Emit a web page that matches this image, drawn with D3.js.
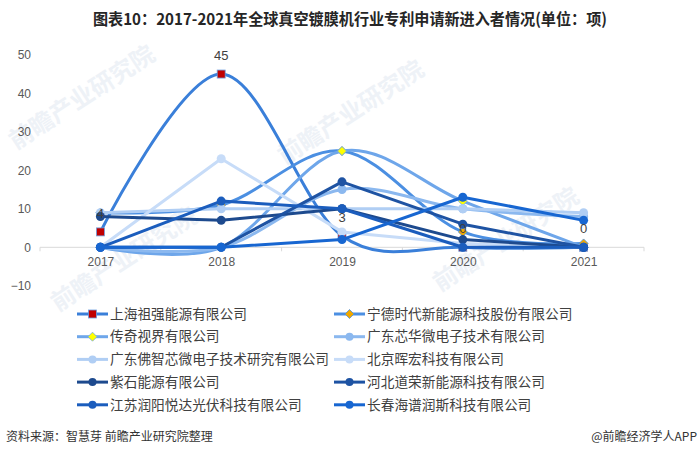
<!DOCTYPE html>
<html><head><meta charset="utf-8">
<script src="https://cdn.jsdelivr.net/npm/d3@7"></script>
<style>body{margin:0;background:#fff}svg{display:block}</style>
</head><body>
<svg id="c" width="700" height="453"></svg>
<script>
const years = ["2017","2018","2019","2020","2021"];
const yTicks = [-10,0,10,20,30,40,50];
const names = ["上海祖强能源有限公司","宁德时代新能源科技股份有限公司","传奇视界有限公司","广东芯华微电子技术有限公司","广东佛智芯微电子技术研究有限公司","北京晖宏科技有限公司","紫石能源有限公司","河北道荣新能源科技有限公司","江苏润阳悦达光伏科技有限公司","长春海谱润斯科技有限公司"];
const s1 = [4,45,3,0,0];
const s2 = [9,11,25,4,1];
const s3 = [0,0,25,12,0];
const s4 = [0,0,15,10,8];
const s5 = [9,10,10,10,9];
const s6 = [0,23,4,1,0];
const s7 = [8,7,10,2,0];
const s8 = [0,0,17,6,0];
const s9 = [0,12,10,0,0];
const s10 = [0,0,2,13,7];
const seriesValues = [s1,s2,s3,s4,s5,s6,s7,s8,s9,s10];
const labelValues = ["4","45","3","0","0"];
const title = "图表10：2017-2021年全球真空镀膜机行业专利申请新进入者情况(单位：项)";
const source = "资料来源：智慧芽 前瞻产业研究院整理";
const credit = "@前瞻经济学人APP";
const watermark = "前瞻产业研究院";

const colors = ["#3a7fd9","#4b8fe2","#6ea6ea","#8bb8ef","#b0cef4","#c7dcf8","#1d4a8e","#1e53a3","#1b5dbd","#1766d1"];
const smooth = [true,true,true,true,false,false,false,false,false,false];
const markerType = ["square","diamondO","diamondY","circle","circle","circle","circle","circle","circle","circle"];

const svg = d3.select("#c");
const cjk = "'Noto Sans CJK SC','Noto Sans',sans-serif";

// faint watermarks
[[16,150],[285,165],[440,292],[58,312]].forEach(([x,y])=>{
  svg.append("text").attr("transform",`translate(${x},${y}) rotate(-33)`)
    .attr("font-family",cjk).attr("font-size",24).attr("font-weight","bold")
    .attr("fill","#eef2f7").text(watermark);
});

svg.append("text").attr("x",350).attr("y",25).attr("text-anchor","middle")
  .attr("font-family","'Liberation Sans Narrow','Noto Sans CJK SC',sans-serif")
  .attr("font-weight","bold").attr("font-size",16).attr("fill","#262626")
  .attr("textLength",514).attr("lengthAdjust","spacingAndGlyphs").text(title);

const x = d3.scalePoint().domain(years).range([40,644]).padding(0.5);
const y = d3.scaleLinear().domain([-10,50]).range([285.8,54.8]);

// y axis labels
const yAxis = d3.axisLeft(y).tickValues(yTicks).tickSize(0).tickPadding(0).tickFormat(d=>d<0?"−"+Math.abs(d):d);
const ya = svg.append("g").attr("transform","translate(31,0)").call(yAxis);
ya.select(".domain").remove();
ya.selectAll("text").attr("font-family","'Liberation Sans',Arial,sans-serif").attr("font-size",12).attr("fill","#595959");

// x axis at zero
const xa = svg.append("g").attr("transform",`translate(0,${y(0)})`).call(d3.axisBottom(x).tickSize(0).tickPadding(10));
xa.select(".domain").attr("stroke","#d9d9d9").attr("d","M40,0H644");
xa.selectAll("text").attr("font-family","'Liberation Sans',Arial,sans-serif").attr("font-size",12).attr("fill","#595959");
const bounds = d3.range(6).map(i=>40+i*x.step());
svg.append("g").selectAll("line").data(bounds).join("line")
  .attr("x1",d=>d).attr("x2",d=>d).attr("y1",y(0)).attr("y2",y(0)+4).attr("stroke","#d9d9d9");

function marker(g, type, cx, cy, color, r){
  if(type==="square"){
    g.append("rect").attr("x",cx-4).attr("y",cy-4).attr("width",8).attr("height",8)
      .attr("fill","#c00000").attr("stroke","#6fa0e0").attr("stroke-width",0.8);
  } else if(type==="diamondO" || type==="diamondY"){
    g.append("path").attr("d",`M${cx},${cy-4.5}L${cx+4.5},${cy}L${cx},${cy+4.5}L${cx-4.5},${cy}Z`)
      .attr("fill",type==="diamondO"?"#f0a800":"#ffff00").attr("stroke",color).attr("stroke-width",0.8);
  } else {
    g.append("circle").attr("cx",cx).attr("cy",cy).attr("r",r||4.5).attr("fill",color);
  }
}

const plot = svg.append("g");
seriesValues.forEach((vals,i)=>{
  const line = d3.line().x((d,j)=>x(years[j])).y(d=>y(d))
    .curve(smooth[i]?d3.curveCardinal.tension(0):d3.curveLinear);
  const g = plot.append("g");
  g.append("path").attr("d",line(vals)).attr("fill","none").attr("stroke",colors[i])
    .attr("stroke-width",3).attr("stroke-linejoin","round").attr("stroke-linecap","round");
  vals.forEach((v,j)=>marker(g, markerType[i], x(years[j]), y(v), colors[i]));
});

// data labels for first series
svg.append("g").selectAll("text").data(s1).join("text")
  .attr("x",(d,j)=>x(years[j])).attr("y",(d)=>y(d)-14).attr("text-anchor","middle")
  .attr("font-family","'Liberation Sans',Arial,sans-serif").attr("font-size",13).attr("fill","#404040")
  .text((d,j)=>labelValues[j]);

// legend
const legend = svg.append("g");
names.forEach((n,i)=>{
  const col = i%2, row = Math.floor(i/2);
  const lx = col===0?77:334, ly = 314 + row*22.7;
  const g = legend.append("g");
  g.append("line").attr("x1",lx).attr("x2",lx+31).attr("y1",ly).attr("y2",ly)
    .attr("stroke",colors[i]).attr("stroke-width",3);
  marker(g, markerType[i], lx+15.5, ly, colors[i], 4);
  g.append("text").attr("x",lx+33).attr("y",ly).attr("dy","0.35em")
    .attr("font-family",cjk).attr("font-size",13.7).attr("fill","#404040").text(n);
});

svg.append("text").attr("x",6).attr("y",441).attr("font-family",cjk).attr("font-size",12).attr("fill","#333").text(source);
svg.append("text").attr("x",697).attr("y",441).attr("text-anchor","end").attr("font-family",cjk).attr("font-size",12).attr("fill","#333").text(credit);
</script>
</body></html>
